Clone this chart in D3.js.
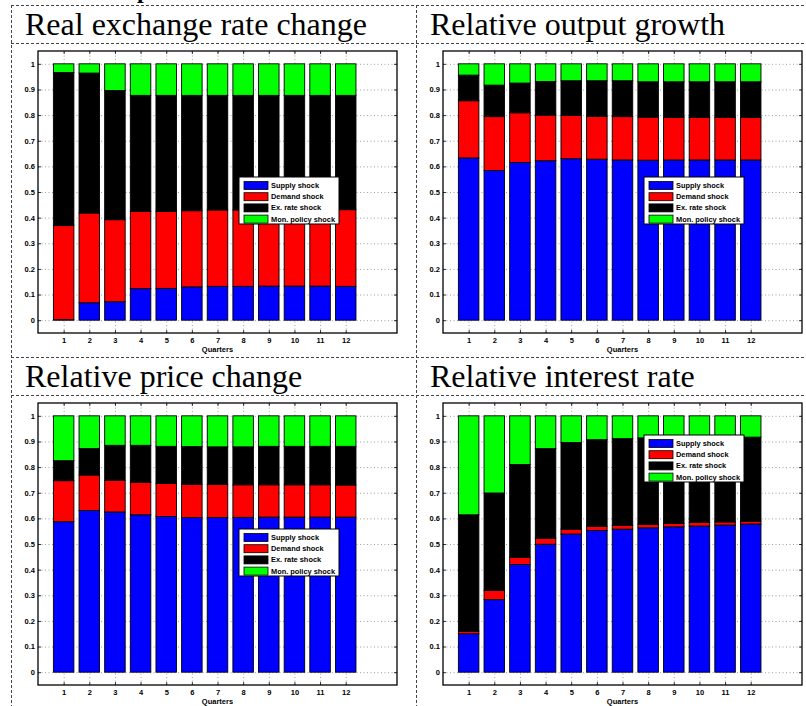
<!DOCTYPE html>
<html>
<head>
<meta charset="utf-8">
<script src="https://cdn.jsdelivr.net/npm/d3@7"></script>
<style>
	body { margin: 0; background: #fff; }
	svg { display: block; }
	.axis text { font-family: "Liberation Sans", Arial, sans-serif; font-weight: bold; font-size: 7.5px; fill: #000; }
	.axis .domain { display: none; }
	.axis line { stroke: #000; stroke-width: 0.8; }
	.grid line { stroke: #888; stroke-width: 0.8; stroke-dasharray: 1,2.5; }
	.grid .domain { display: none; }
	.cell-line { stroke: #444; stroke-width: 1; stroke-dasharray: 3,2; fill: none; }
	.title { font-family: "Liberation Serif", "Times New Roman", serif; font-size: 32px; fill: #000; }
	.legend text { font-family: "Liberation Sans", Arial, sans-serif; font-weight: bold; font-size: 7.4px; fill: #000; }
</style>
</head>
<body>
<script>

// Categories, series and tick labels
const quarters = [1, 2, 3, 4, 5, 6, 7, 8, 9, 10, 11, 12];
const shockLabels = ["Supply shock", "Demand shock", "Ex. rate shock", "Mon. policy shock"];
const shockColors = ["#0000ff", "#ff0000", "#000000", "#00ff00"];
const yTicks = [0, 0.1, 0.2, 0.3, 0.4, 0.5, 0.6, 0.7, 0.8, 0.9, 1];
const panelTitles = ["Real exchange rate change", "Relative output growth",
					 "Relative price change", "Relative interest rate"];

// Real exchange rate change
const rerSupply = [0.002, 0.068, 0.072, 0.123, 0.124, 0.130, 0.132, 0.132, 0.133, 0.133, 0.133, 0.132];
const rerDemand = [0.367, 0.350, 0.320, 0.301, 0.300, 0.297, 0.298, 0.298, 0.298, 0.298, 0.298, 0.299];
const rerExRate = [0.597, 0.546, 0.504, 0.453, 0.453, 0.450, 0.447, 0.447, 0.446, 0.446, 0.446, 0.446];
const rerMonPol = [0.034, 0.036, 0.104, 0.123, 0.123, 0.123, 0.123, 0.123, 0.123, 0.123, 0.123, 0.123];

// Relative output growth
const outSupply = [0.633, 0.584, 0.615, 0.622, 0.630, 0.628, 0.625, 0.624, 0.625, 0.625, 0.625, 0.625];
const outDemand = [0.223, 0.210, 0.194, 0.178, 0.169, 0.167, 0.169, 0.168, 0.166, 0.166, 0.166, 0.166];
const outExRate = [0.100, 0.123, 0.116, 0.131, 0.135, 0.139, 0.140, 0.138, 0.139, 0.139, 0.139, 0.139];
const outMonPol = [0.044, 0.083, 0.075, 0.069, 0.066, 0.066, 0.066, 0.070, 0.070, 0.070, 0.070, 0.070];

// Relative price change
const priSupply = [0.587, 0.631, 0.625, 0.614, 0.607, 0.603, 0.603, 0.604, 0.605, 0.605, 0.605, 0.605];
const priDemand = [0.160, 0.138, 0.124, 0.127, 0.129, 0.130, 0.129, 0.127, 0.126, 0.126, 0.126, 0.125];
const priExRate = [0.078, 0.103, 0.136, 0.144, 0.145, 0.147, 0.147, 0.148, 0.150, 0.150, 0.150, 0.151];
const priMonPol = [0.175, 0.128, 0.115, 0.115, 0.119, 0.120, 0.121, 0.121, 0.119, 0.119, 0.119, 0.119];

// Relative interest rate
const intSupply = [0.150, 0.283, 0.420, 0.499, 0.539, 0.553, 0.558, 0.563, 0.567, 0.570, 0.574, 0.578];
const intDemand = [0.010, 0.036, 0.028, 0.023, 0.019, 0.016, 0.015, 0.013, 0.013, 0.014, 0.012, 0.011];
const intExRate = [0.454, 0.380, 0.362, 0.350, 0.338, 0.338, 0.338, 0.338, 0.337, 0.334, 0.332, 0.328];
const intMonPol = [0.386, 0.301, 0.190, 0.128, 0.104, 0.093, 0.089, 0.086, 0.083, 0.082, 0.082, 0.083];

const panelSeries = [
	[rerSupply, rerDemand, rerExRate, rerMonPol],
	[outSupply, outDemand, outExRate, outMonPol],
	[priSupply, priDemand, priExRate, priMonPol],
	[intSupply, intDemand, intExRate, intMonPol]
];

// Page layout
const W = 806, H = 706;
const colX = [11, 416];
const rowY = [5, 357];
const plotW = 359, plotH = 282;
// legend offset from the plot frame corner, per panel
const legendPos = [[201, 126], [201, 126], [201, 126], [201, 32]];

const svg = d3.select("body").append("svg")
			  .attr("width", W)
			  .attr("height", H);

// Clipped header text above the table
svg.append("text")
   .attr("x", 137)
   .attr("y", -2)
   .attr("font-family", "Liberation Serif, serif")
   .attr("font-weight", "bold")
   .attr("font-size", 24)
   .text("p");

// Dashed table lines
rowY.forEach(y => {
	svg.append("line").classed("cell-line", true)
	   .attr("x1", colX[0]).attr("x2", W).attr("y1", y + 0.5).attr("y2", y + 0.5);
	svg.append("line").classed("cell-line", true)
	   .attr("x1", colX[0]).attr("x2", W).attr("y1", y + 38.5).attr("y2", y + 38.5);
});
colX.forEach(x => {
	svg.append("line").classed("cell-line", true)
	   .attr("x1", x + 0.5).attr("x2", x + 0.5).attr("y1", rowY[0]).attr("y2", H);
});

const keys = d3.range(shockLabels.length);

panelSeries.forEach((series, p) => {

	const cx = colX[p % 2], cy = rowY[Math.floor(p / 2)];

	svg.append("text").classed("title", true)
	   .attr("x", cx + 14)
	   .attr("y", cy + 30)
	   .text(panelTitles[p]);

	const g = svg.append("g")
				 .attr("transform", "translate(" + (cx + 27) + "," + (cy + 46) + ")");

	const x = d3.scaleLinear().domain([0, 14]).range([0, plotW]);
	const y = d3.scaleLinear().domain([-0.05, 1.05]).range([plotH, 0]);

	// dotted grid
	g.append("g").classed("grid", true)
	 .call(d3.axisLeft(y).tickValues(yTicks).tickSize(-plotW).tickFormat(""));
	g.append("g").classed("grid", true)
	 .attr("transform", "translate(0," + plotH + ")")
	 .call(d3.axisBottom(x).tickValues(quarters).tickSize(-plotH).tickFormat(""));

	// stacked bars
	const table = quarters.map((q, i) => {
		const row = { q: q };
		keys.forEach(k => { row[k] = series[k][i]; });
		return row;
	});
	const stacked = d3.stack().keys(keys)(table);
	const bw = (x(1) - x(0)) * 0.8;

	g.selectAll(".layer")
	 .data(stacked)
	 .join("g")
	 .attr("fill", d => shockColors[d.key])
	 .selectAll("rect")
	 .data(d => d)
	 .join("rect")
	 .attr("x", d => x(d.data.q) - bw / 2)
	 .attr("y", d => y(d[1]))
	 .attr("width", bw)
	 .attr("height", d => y(d[0]) - y(d[1]))
	 .attr("stroke", "#000")
	 .attr("stroke-width", 0.9);

	// axes with inward ticks
	g.append("g").classed("axis", true)
	 .call(d3.axisLeft(y).tickValues(yTicks).tickSize(-3).tickPadding(3)
	 		.tickFormat(d3.format("~g")));
	g.append("g").classed("axis", true)
	 .attr("transform", "translate(" + plotW + ",0)")
	 .call(d3.axisRight(y).tickValues(yTicks).tickSize(-3).tickFormat(""));
	g.append("g").classed("axis", true)
	 .attr("transform", "translate(0," + plotH + ")")
	 .call(d3.axisBottom(x).tickValues(quarters).tickSize(-3).tickPadding(5));
	g.append("g").classed("axis", true)
	 .call(d3.axisTop(x).tickValues(quarters).tickSize(-3).tickFormat(""));

	g.append("rect")
	 .attr("width", plotW)
	 .attr("height", plotH)
	 .attr("fill", "none")
	 .attr("stroke", "#000")
	 .attr("stroke-width", 1.3);

	g.append("text")
	 .attr("x", plotW / 2)
	 .attr("y", plotH + 19)
	 .attr("text-anchor", "middle")
	 .attr("font-family", "Liberation Sans, Arial, sans-serif")
	 .attr("font-weight", "bold")
	 .attr("font-size", 7.5)
	 .text("Quarters");

	// legend
	const lg = g.append("g").classed("legend", true)
				.attr("transform", "translate(" + legendPos[p][0] + "," + legendPos[p][1] + ")");
	lg.append("rect")
	  .attr("width", 100)
	  .attr("height", 47)
	  .attr("fill", "#fff")
	  .attr("stroke", "#000")
	  .attr("stroke-width", 1);
	const item = lg.selectAll(".item")
				   .data(shockLabels)
				   .join("g")
				   .attr("transform", (d, i) => "translate(0," + (8.5 + i * 11.2) + ")");
	item.append("rect")
		.attr("x", 5)
		.attr("y", -4)
		.attr("width", 24)
		.attr("height", 8)
		.attr("fill", (d, i) => shockColors[i])
		.attr("stroke", "#000")
		.attr("stroke-width", 0.8);
	item.append("text")
		.attr("x", 32)
		.attr("dy", "0.35em")
		.text(d => d);
});

</script>
</body>
</html>
